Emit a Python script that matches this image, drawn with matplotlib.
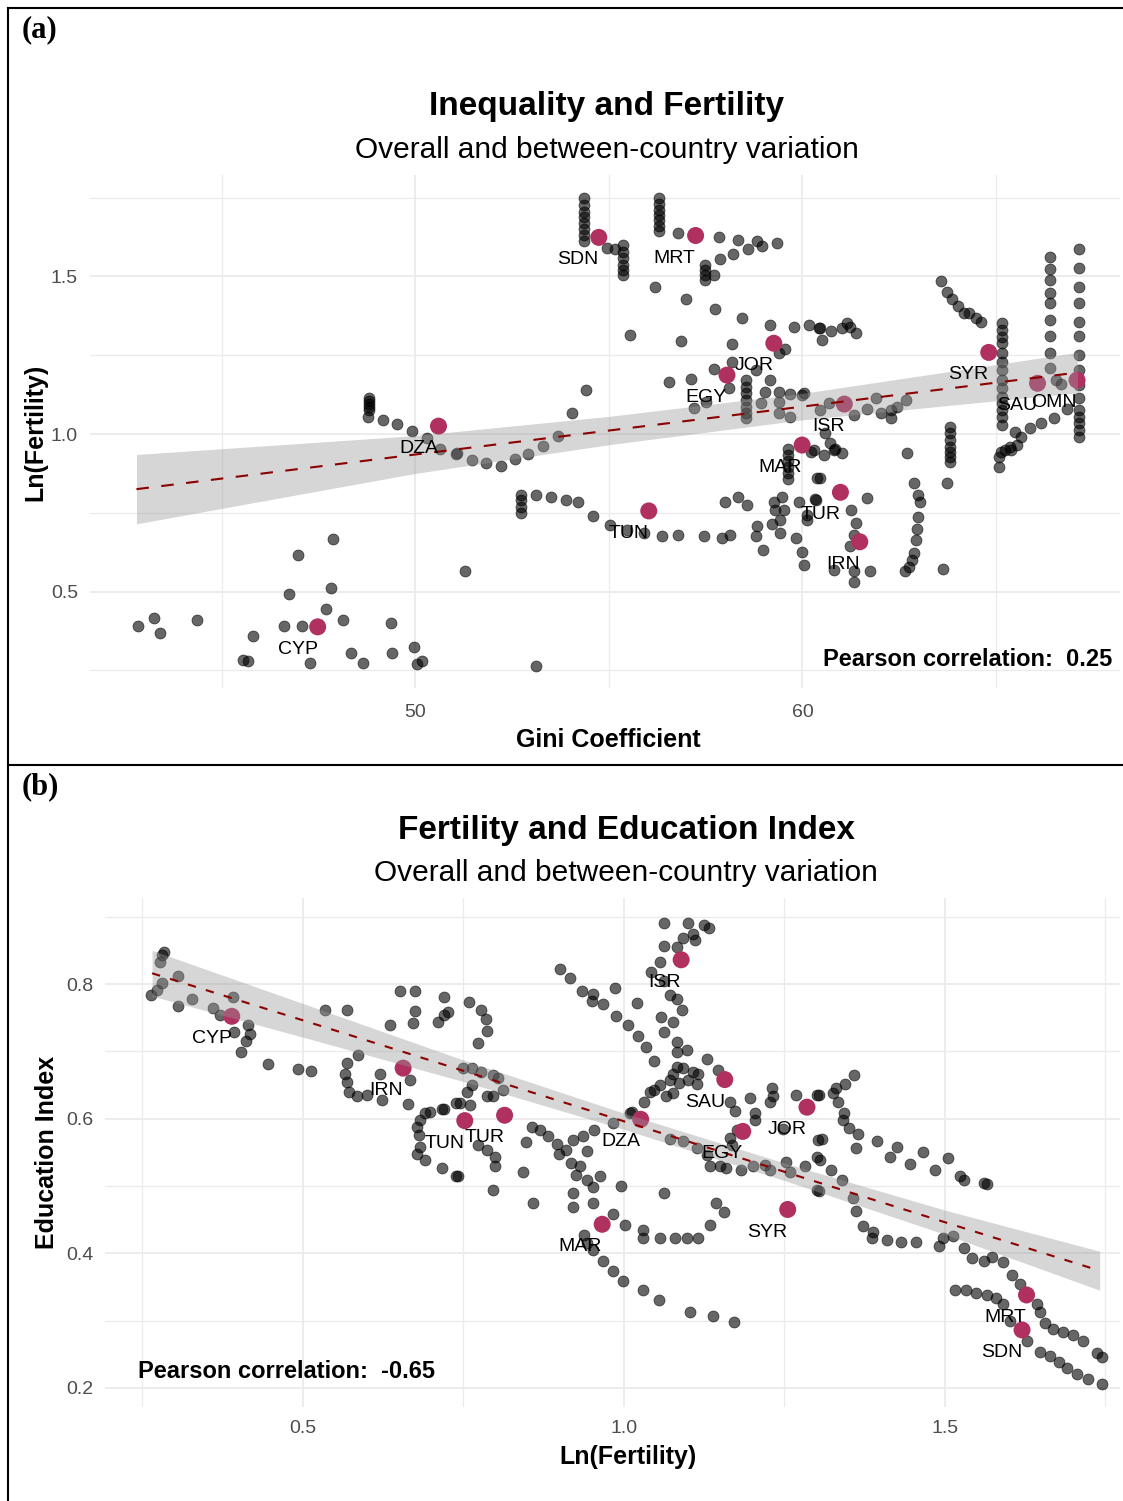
import numpy as np
import matplotlib
matplotlib.use('Agg')
import matplotlib.pyplot as plt
from matplotlib.lines import Line2D

plt.rcParams['font.family'] = ['Liberation Sans', 'DejaVu Sans']

# --- DATA: panel (a) Gini vs Ln(Fertility), country-year observations ---
gini = [
    48.8, 48.8, 48.8, 48.8, 48.8, 48.79, 49.16, 49.54, 49.91, 50.3, 50.65, 51.06,
    54.37, 54.37, 54.37, 54.37, 54.37, 54.37, 54.37, 54.37, 54.95, 55.17,
    55.37, 55.37, 55.37, 55.37, 55.37, 55.37,
    56.29, 56.29, 56.29, 56.29, 56.29, 56.29, 56.29,
    56.79, 57.84, 58.34, 58.83, 58.96, 59.33, 58.59, 58.21, 57.88,
    57.49, 57.49, 57.49, 57.49, 57.71,
    56.2, 56.99, 57.73, 58.44, 59.16, 59.78, 60.16, 60.42,
    55.54, 56.87, 58.17, 59.56, 59.39, 58.18, 57.71, 57.12, 56.55,
    58.53, 58.53, 58.53, 58.53, 58.53, 58.53, 58.53,
    58.79, 59.17, 59.04, 59.39, 59.69, 59.99, 58.1, 57.5, 57.19, 58.92, 59.39, 59.39, 59.67,
    54.42, 54.05, 53.68, 53.3, 52.91, 52.58, 52.21, 51.83, 51.46, 51.08,
    59.63, 59.63, 59.63, 59.63, 59.63, 59.63,
    60.46, 60.74, 60.51, 61.02, 61.15, 61.24, 61.39,
    63.58, 63.73, 63.87, 64.01, 64.17, 64.3, 64.47, 64.6,
    65.16, 65.16, 65.16, 65.16, 65.16, 65.16, 65.16, 65.16, 65.16, 65.16, 65.16, 65.16, 65.16, 65.16,
    67.14, 67.14, 67.14, 67.14, 67.14, 67.14, 67.14, 67.14, 67.14, 67.14, 67.14, 67.14, 67.14, 67.14, 67.14,
    66.39, 66.39, 66.39, 66.39, 66.39, 66.39, 66.39, 66.39, 66.39,
    66.54, 66.67, 66.84, 66.49, 66.16, 65.87, 65.64, 65.5, 65.36, 65.22, 65.07, 65.07,
    63.81, 63.81, 63.81, 63.81, 63.81, 63.81, 63.81, 62.7,
    60.03, 60.68, 61.33, 61.67, 61.89, 62.02, 62.28, 62.28, 62.45, 62.67,
    60.46, 60.59, 60.72, 60.85, 61.02, 60.55, 60.29,
    42.83, 43.26, 43.41, 44.36, 45.82, 45.56, 45.69, 46.61, 47.07, 46.75, 46.96, 47.87,
    47.83, 47.7, 48.13, 47.29, 48.34, 48.66, 49.37, 49.41, 49.96, 50.04, 50.17,
    51.29, 52.74, 52.74, 52.74, 52.74, 53.13, 53.51, 53.88, 54.2, 54.58, 55.02, 55.47,
    55.92, 56.37, 56.79, 57.45, 57.91, 58.14, 53.13, 58.01, 58.34, 58.57, 58.83, 58.79,
    58.98, 59.26, 59.48, 59.3, 59.52, 59.43, 59.22, 59.43, 59.82, 59.99, 59.91, 60.12,
    60.34, 60.38,
    60.46, 60.33, 60.12, 61.26, 61.37, 61.33, 61.24, 60.03, 60.81, 61.33, 61.33, 61.74,
    61.67, 60.21, 60.81,
    62.88, 62.98, 63.03, 62.98, 62.96, 62.92, 62.88, 62.82, 62.75, 62.66,
    63.74, 63.63, 65.12, 65.38, 65.55,
]
fert_a = [
    1.115, 1.105, 1.095, 1.085, 1.075, 1.053, 1.044, 1.032, 1.011, 0.986, 0.954, 0.937,
    1.748, 1.727, 1.706, 1.688, 1.669, 1.650, 1.632, 1.614, 1.589, 1.586,
    1.600, 1.579, 1.558, 1.537, 1.521, 1.505,
    1.748, 1.730, 1.711, 1.695, 1.679, 1.661, 1.644,
    1.637, 1.626, 1.616, 1.614, 1.597, 1.607, 1.586, 1.571, 1.556,
    1.537, 1.521, 1.505, 1.489, 1.505,
    1.466, 1.428, 1.396, 1.367, 1.346, 1.341, 1.346, 1.335,
    1.314, 1.295, 1.286, 1.269, 1.256, 1.230, 1.205, 1.174, 1.166,
    1.171, 1.150, 1.129, 1.108, 1.087, 1.066, 1.050,
    1.203, 1.171, 1.134, 1.134, 1.126, 1.124, 1.145, 1.103, 1.084, 1.099, 1.103, 1.066, 1.055,
    1.140, 1.066, 0.994, 0.963, 0.937, 0.920, 0.899, 0.909, 0.917, 0.939,
    0.954, 0.935, 0.915, 0.895, 0.875, 0.858,
    1.335, 1.328, 1.298, 1.335, 1.353, 1.341, 1.322,
    1.487, 1.452, 1.428, 1.406, 1.385, 1.385, 1.367, 1.357,
    1.351, 1.330, 1.309, 1.288, 1.256, 1.230, 1.203, 1.171, 1.145, 1.119, 1.097, 1.076, 1.055, 1.029,
    1.587, 1.526, 1.466, 1.415, 1.357, 1.310, 1.251, 1.203, 1.156, 1.113, 1.076, 1.055, 1.034, 1.013, 0.989,
    1.563, 1.523, 1.489, 1.447, 1.415, 1.362, 1.311, 1.256, 1.208,
    1.171, 1.159, 1.078, 1.050, 1.034, 1.018, 0.992, 1.007, 0.960, 0.949, 0.928, 0.896,
    1.023, 1.002, 0.981, 0.960, 0.944, 0.928, 0.912, 0.939,
    1.129, 1.099, 1.060, 1.078, 1.113, 1.066, 1.076, 1.050, 1.087, 1.108,
    1.076, 1.002, 0.970, 0.951, 0.939, 0.933, 0.949,
    0.390, 0.415, 0.369, 0.410, 0.359, 0.283, 0.281, 0.390, 0.390, 0.491, 0.616, 0.667,
    0.512, 0.445, 0.410, 0.274, 0.306, 0.274, 0.401, 0.306, 0.325, 0.269, 0.281,
    0.566, 0.806, 0.790, 0.769, 0.748, 0.808, 0.801, 0.790, 0.783, 0.741, 0.711, 0.695,
    0.687, 0.676, 0.679, 0.676, 0.671, 0.681, 0.264, 0.783, 0.799, 0.775, 0.708, 0.676,
    0.632, 0.785, 0.799, 0.759, 0.759, 0.727, 0.716, 0.687, 0.671, 0.625, 0.783, 0.727,
    0.790, 0.860,
    0.859, 0.793, 0.743, 0.759, 0.717, 0.679, 0.644, 0.584, 0.568, 0.565, 0.531, 0.566,
    0.798, 0.944, 0.949,
    0.843, 0.806, 0.785, 0.738, 0.697, 0.664, 0.623, 0.600, 0.579, 0.565,
    0.843, 0.571, 0.944, 0.949, 0.965,
]

# country means, panel (a)
countries_a = ['SDN', 'MRT', 'JOR', 'EGY', 'DZA', 'SYR', 'SAU', 'OMN', 'ISR', 'MAR',
               'TUR', 'TUN', 'IRN', 'CYP']
gini_mean = [54.74, 57.24, 59.26, 58.05, 50.6, 64.81, 66.07, 67.09, 61.08, 59.99,
             60.98, 56.03, 61.48, 47.48]
fert_mean_a = [1.624, 1.630, 1.288, 1.187, 1.025, 1.259, 1.161, 1.171, 1.095, 0.965,
               0.815, 0.756, 0.658, 0.388]

# linear fit and 95% band
fit_a_x = [42.8, 50, 55, 60, 67.1]
fit_a_y = [0.825, 0.935, 1.011, 1.087, 1.195]
fit_a_hw = [0.11, 0.06, 0.045, 0.042, 0.064]

# --- DATA: panel (b) Ln(Fertility) vs Education Index ---
fert_b = [
    0.283, 0.280, 0.277, 0.281, 0.272, 0.264, 0.306, 0.327, 0.306, 0.36, 0.37, 0.391,
    0.393, 0.415, 0.417, 0.412, 0.404, 0.445, 0.493, 0.513, 0.534, 0.568,
    0.586, 0.568, 0.565, 0.568, 0.571, 0.584, 0.599, 0.620, 0.623, 0.667, 0.663, 0.636,
    0.651, 0.674, 0.674, 0.672, 0.719, 0.711, 0.719, 0.726,
    0.682, 0.690, 0.698, 0.677, 0.680, 0.682, 0.677, 0.690, 0.716, 0.716, 0.739, 0.739,
    0.759, 0.777, 0.785, 0.787, 0.772,
    0.900, 0.916, 0.934, 0.951, 0.950, 0.968, 0.986, 0.987, 1.007, 1.020, 1.022, 1.035, 1.047,
    1.062, 1.1, 1.124, 1.132, 1.108, 1.092, 1.111, 1.083, 1.062, 1.056, 1.042, 1.062,
    1.072, 1.083, 1.091, 1.057, 1.077, 1.062, 1.083, 1.083, 1.098, 1.083, 1.092, 1.108,
    1.116, 1.077, 1.072, 1.085, 1.1, 1.113, 1.056, 1.040, 1.046, 1.077, 1.066, 1.031,
    1.012, 1.129, 1.147, 1.165, 1.173, 1.196, 1.204, 1.204, 1.23, 1.232, 1.227, 1.268,
    1.3, 1.248,
    0.749, 0.764, 0.777, 0.796, 0.803, 0.812, 0.764, 0.755, 0.786, 0.796, 0.744, 0.760,
    0.719, 0.773, 0.786, 0.799, 0.799, 0.742, 0.796, 0.843, 0.848, 0.856, 0.869, 0.881,
    0.895, 0.898, 0.909, 0.918, 0.921, 0.936, 0.954, 0.942, 0.931, 0.926, 0.942, 0.963,
    0.952, 0.996, 0.983, 1.009,
    1.071, 1.092, 1.113, 1.129, 1.134, 1.150, 1.159, 1.168, 1.165, 1.176, 1.183, 1.201,
    1.22, 1.227, 1.253, 1.259, 1.282, 1.3, 1.302, 1.3, 1.062,
    1.303, 1.359, 1.345, 1.331, 1.326, 1.334, 1.343, 1.341, 1.35, 1.364, 1.362, 1.394,
    1.425, 1.414, 1.445, 1.465, 1.484, 1.505, 1.523, 1.561, 1.308, 1.305, 1.323, 1.339,
    1.303,
    0.859, 0.921, 0.921, 0.952, 0.983, 1.002, 1.03, 1.03, 1.056, 1.08, 1.098, 1.116,
    1.134, 1.144, 1.155,
    0.937, 0.942, 0.952, 0.968, 0.983, 0.999, 1.03, 1.054, 1.103, 1.139, 1.172,
    1.357, 1.362, 1.373, 1.388, 1.386, 1.409, 1.431, 1.455, 1.49, 1.497, 1.513, 1.529,
    1.542, 1.56, 1.573, 1.59, 1.604, 1.617, 1.529, 1.565,
    1.515, 1.532, 1.549, 1.565, 1.58, 1.591, 1.601, 1.643, 1.648, 1.656, 1.669, 1.684,
    1.7, 1.715, 1.736, 1.744,
    1.627, 1.648, 1.664, 1.677, 1.69, 1.705, 1.723, 1.744,
]
edu_b = [
    0.848, 0.843, 0.833, 0.801, 0.791, 0.784, 0.812, 0.777, 0.767, 0.765, 0.754, 0.781,
    0.729, 0.739, 0.725, 0.716, 0.699, 0.681, 0.674, 0.671, 0.761, 0.761,
    0.695, 0.682, 0.667, 0.655, 0.640, 0.633, 0.635, 0.666, 0.627, 0.657, 0.622, 0.739,
    0.789, 0.789, 0.760, 0.742, 0.781, 0.744, 0.754, 0.759,
    0.598, 0.608, 0.610, 0.588, 0.576, 0.558, 0.548, 0.539, 0.526, 0.615, 0.623, 0.514,
    0.774, 0.761, 0.748, 0.730, 0.712,
    0.823, 0.809, 0.790, 0.785, 0.775, 0.770, 0.794, 0.753, 0.739, 0.772, 0.723, 0.706, 0.686,
    0.891, 0.891, 0.888, 0.883, 0.875, 0.868, 0.865, 0.855, 0.856, 0.833, 0.818, 0.805,
    0.784, 0.777, 0.761, 0.751, 0.743, 0.728, 0.714, 0.699, 0.702, 0.677, 0.675, 0.670,
    0.667, 0.667, 0.657, 0.653, 0.657, 0.652, 0.650, 0.640, 0.642, 0.638, 0.633, 0.624,
    0.610, 0.688, 0.672, 0.625, 0.612, 0.630, 0.608, 0.598, 0.645, 0.633, 0.625, 0.635,
    0.635, 0.584,
    0.675, 0.675, 0.670, 0.665, 0.660, 0.643, 0.650, 0.640, 0.633, 0.633, 0.623, 0.620,
    0.615, 0.561, 0.553, 0.543, 0.529, 0.514, 0.494, 0.521, 0.565, 0.588, 0.583, 0.574,
    0.563, 0.547, 0.554, 0.534, 0.568, 0.574, 0.583, 0.552, 0.529, 0.516, 0.509, 0.514,
    0.499, 0.500, 0.593, 0.608,
    0.569, 0.567, 0.556, 0.546, 0.529, 0.529, 0.526, 0.561, 0.571, 0.583, 0.524, 0.529,
    0.531, 0.524, 0.536, 0.520, 0.529, 0.543, 0.568, 0.494, 0.489,
    0.635, 0.665, 0.652, 0.645, 0.638, 0.625, 0.609, 0.598, 0.586, 0.577, 0.556, 0.567,
    0.558, 0.543, 0.532, 0.551, 0.523, 0.542, 0.514, 0.504, 0.569, 0.539, 0.523, 0.509,
    0.493,
    0.475, 0.489, 0.469, 0.474, 0.459, 0.442, 0.435, 0.422, 0.422, 0.422, 0.422, 0.422,
    0.442, 0.475, 0.461,
    0.427, 0.415, 0.405, 0.388, 0.374, 0.358, 0.346, 0.330, 0.313, 0.306, 0.298,
    0.482, 0.462, 0.440, 0.431, 0.422, 0.419, 0.417, 0.416, 0.411, 0.422, 0.425, 0.408,
    0.393, 0.389, 0.395, 0.387, 0.368, 0.355, 0.509, 0.503,
    0.345, 0.345, 0.341, 0.338, 0.334, 0.325, 0.300, 0.325, 0.313, 0.296, 0.288, 0.283,
    0.279, 0.269, 0.251, 0.246,
    0.269, 0.253, 0.247, 0.239, 0.229, 0.221, 0.213, 0.206,
]

countries_b = ['CYP', 'IRN', 'TUN', 'TUR', 'ISR', 'SAU', 'DZA', 'EGY', 'JOR', 'MAR',
               'SYR', 'MRT', 'SDN']
fert_mean_b = [0.389, 0.656, 0.752, 0.814, 1.089, 1.157, 1.026, 1.185, 1.285, 0.966,
               1.255, 1.627, 1.62]
edu_mean_b = [0.752, 0.675, 0.597, 0.605, 0.836, 0.658, 0.599, 0.581, 0.617, 0.443,
              0.465, 0.338, 0.286]

fit_b_x = [0.265, 0.5, 0.75, 1.0, 1.25, 1.5, 1.741]
fit_b_y = [0.816, 0.746, 0.671, 0.596, 0.521, 0.446, 0.374]
fit_b_hw = [0.034, 0.025, 0.016, 0.012, 0.013, 0.018, 0.029]

W, H = 1123, 1501
MAROON = '#B03060'
GRID = '#EBEBEB'


def fx(px):
    return px / W


def fy(py):
    return 1 - py / H


fig = plt.figure(figsize=(W / 100, H / 100), dpi=100)


def style_axes(ax, xmaj, xmin, ymaj, ymin, xlab, ylab, xpad, ypad):
    ax.set_xticks(xmaj)
    ax.set_xticks(xmin, minor=True)
    ax.set_yticks(ymaj)
    ax.set_yticks(ymin, minor=True)
    ax.set_xticklabels(xlab)
    ax.set_yticklabels(ylab)
    ax.grid(True, which='major', color=GRID, lw=1.3, zorder=0)
    ax.grid(True, which='minor', color=GRID, lw=0.9, zorder=0)
    ax.set_axisbelow(True)
    for s in ax.spines.values():
        s.set_visible(False)
    ax.tick_params(which='both', length=0, labelsize=14, labelcolor='#4D4D4D')
    ax.tick_params(axis='x', pad=xpad)
    ax.tick_params(axis='y', pad=ypad)


def draw_panel(ax, x, y, mx, my, names, fx_, fy_, fhw, dash):
    ax.scatter(x, y, s=62, color='black', alpha=0.6, edgecolors='black',
               linewidths=0.6, zorder=2)
    ax.scatter(mx, my, s=150, color=MAROON, edgecolors='none', zorder=3)
    fx_ = np.array(fx_)
    fy_ = np.array(fy_)
    fhw = np.array(fhw)
    ax.fill_between(fx_, fy_ - fhw, fy_ + fhw, color='#999999', alpha=0.4,
                    lw=0, zorder=4)
    ax.plot(fx_, fy_, color='#8B0000', lw=1.5, ls=(0, dash), zorder=5)
    for n, a, b in zip(names, mx, my):
        ax.annotate(n, (a, b), xytext=(0, -19.5), textcoords='offset points',
                    ha='right', va='baseline', fontsize=14, color='black', zorder=6)


# panel (a)
ax_a = fig.add_axes([fx(90), fy(688), fx(1120) - fx(90), fy(175) - fy(688)])
ax_a.set_xlim(41.6, 68.2)
ax_a.set_ylim(0.194, 1.822)
style_axes(ax_a, [50, 60], [45, 55, 65], [0.5, 1.0, 1.5], [0.25, 0.75, 1.25, 1.75],
           ['50', '60'], ['0.5', '1.0', '1.5'], 11.5, 8.6)
draw_panel(ax_a, gini, fert_a, gini_mean, fert_mean_a, countries_a,
           fit_a_x, fit_a_y, fit_a_hw, (6, 6))

# panel (b)
ax_b = fig.add_axes([fx(105), fy(1407), fx(1120) - fx(105), fy(898) - fy(1407)])
ax_b.set_xlim(0.1916, 1.7726)
ax_b.set_ylim(0.1715, 0.9278)
style_axes(ax_b, [0.5, 1.0, 1.5], [0.25, 0.75, 1.25, 1.75], [0.2, 0.4, 0.6, 0.8],
           [0.3, 0.5, 0.7, 0.9], ['0.5', '1.0', '1.5'], ['0.2', '0.4', '0.6', '0.8'],
           9.4, 8.6)
draw_panel(ax_b, fert_b, edu_b, fert_mean_b, edu_mean_b, countries_b,
           fit_b_x, fit_b_y, fit_b_hw, (4, 5))

# titles and labels
fig.text(fx(607), fy(107), 'Inequality and Fertility', ha='center', va='center',
         fontsize=24, fontweight='bold')
fig.text(fx(607), fy(150), 'Overall and between-country variation', ha='center',
         va='center', fontsize=21.5)
fig.text(fx(608), fy(740), 'Gini Coefficient', ha='center', va='center',
         fontsize=18, fontweight='bold')
fig.text(fx(35), fy(432), 'Ln(Fertility)', ha='center', va='center', rotation=90,
         fontsize=18, fontweight='bold')
fig.text(fx(1112), fy(660), 'Pearson correlation:  0.25', ha='right', va='center',
         fontsize=17, fontweight='bold')

fig.text(fx(626), fy(831), 'Fertility and Education Index', ha='center', va='center',
         fontsize=24, fontweight='bold')
fig.text(fx(626), fy(873), 'Overall and between-country variation', ha='center',
         va='center', fontsize=21.5)
fig.text(fx(628), fy(1457), 'Ln(Fertility)', ha='center', va='center',
         fontsize=18, fontweight='bold')
fig.text(fx(47), fy(1152), 'Education Index', ha='center', va='center', rotation=90,
         fontsize=18, fontweight='bold')
fig.text(fx(138), fy(1371), 'Pearson correlation:  -0.65', ha='left', va='center',
         fontsize=17, fontweight='bold')

fig.text(fx(22), fy(30), '(a)', ha='left', va='center', fontsize=22,
         fontweight='bold', family=['Liberation Serif', 'DejaVu Serif'])
fig.text(fx(22), fy(787), '(b)', ha='left', va='center', fontsize=22,
         fontweight='bold', family=['Liberation Serif', 'DejaVu Serif'])

# frame lines around the two panels
for xs, ys in [([8, 1123], [8, 8]), ([8, 8], [8, 1501]), ([8, 1123], [765, 765])]:
    fig.add_artist(Line2D([fx(v) for v in xs], [fy(v) for v in ys],
                          color='black', lw=1.5))

fig.savefig('out.png', dpi=100)
